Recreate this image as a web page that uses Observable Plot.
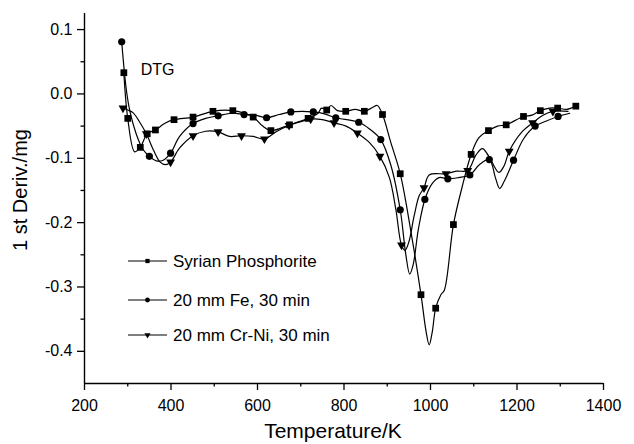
<!DOCTYPE html>
<html><head><meta charset="utf-8">
<script src="https://cdn.jsdelivr.net/npm/d3@7"></script>
<script src="https://cdn.jsdelivr.net/npm/@observablehq/plot@0.6"></script>
<style>body{margin:0;background:#fff}#chart{width:634px;height:444px}</style>
</head><body><div id="chart"></div>
<script>
const seriesNames = ["Syrian Phosphorite", "20 mm Fe, 30 min", "20 mm Cr-Ni, 30 min"];
const xMajor = [200, 400, 600, 800, 1000, 1200, 1400];
const xMinor = [300, 500, 700, 900, 1100, 1300];
const yMajor = [-0.4, -0.3, -0.2, -0.1, 0.0, 0.1];
const yMinor = [-0.35, -0.25, -0.15, -0.05, 0.05];
const annotation = [{T: 330, v: 0.030, label: "DTG"}];

// [Temperature K, 1st derivative mg] - marker points and extra curve points
const syrianMarks = [[291,0.033],[300,-0.038],[329,-0.083],[345,-0.062],[364,-0.056],[407,-0.040],[451,-0.036],[497,-0.027],[543,-0.026],[590,-0.036],[631,-0.057],[674,-0.048],[717,-0.038],[760,-0.025],[804,-0.027],[847,-0.027],[889,-0.032],[930,-0.124],[978,-0.312],[1012,-0.333],[1053,-0.203],[1094,-0.094],[1134,-0.057],[1175,-0.048],[1215,-0.035],[1254,-0.026],[1294,-0.022],[1336,-0.019]];
const syrianExtra = [[316,-0.090],[385,-0.046],[612,-0.050],[740,-0.030],[748,-0.022],[770,-0.018],[785,-0.026],[826,-0.024],[866,-0.021],[877,-0.018],[908,-0.075],[955,-0.215],[990,-0.370],[997,-0.390],[1004,-0.370],[1024,-0.312],[1032,-0.305],[1073,-0.145],[1112,-0.068],[1155,-0.050],[1235,-0.033],[1275,-0.022],[1315,-0.024]];

const feMarks = [[286,0.081],[350,-0.097],[399,-0.092],[451,-0.046],[509,-0.034],[569,-0.032],[621,-0.037],[677,-0.028],[729,-0.028],[781,-0.037],[834,-0.044],[885,-0.071],[930,-0.180],[987,-0.164],[1040,-0.132],[1091,-0.126],[1136,-0.102],[1192,-0.103],[1242,-0.050],[1295,-0.035]];
const feExtra = [[297,0.005],[306,-0.030],[320,-0.063],[335,-0.086],[366,-0.104],[382,-0.103],[420,-0.066],[480,-0.038],[540,-0.030],[595,-0.033],[650,-0.032],[703,-0.027],[755,-0.031],[860,-0.055],[908,-0.110],[943,-0.250],[952,-0.280],[960,-0.265],[972,-0.210],[1003,-0.140],[1020,-0.130],[1065,-0.130],[1113,-0.110],[1150,-0.130],[1160,-0.147],[1171,-0.135],[1215,-0.070],[1268,-0.042],[1322,-0.030]];

const crniMarks = [[289,-0.022],[343,-0.062],[399,-0.106],[451,-0.065],[509,-0.059],[563,-0.065],[616,-0.070],[673,-0.049],[723,-0.039],[777,-0.045],[831,-0.061],[883,-0.097],[933,-0.235],[985,-0.146],[1036,-0.124],[1086,-0.119],[1182,-0.089],[1236,-0.045],[1283,-0.027]];
const crniExtra = [[300,-0.025],[312,-0.029],[326,-0.042],[360,-0.088],[375,-0.106],[387,-0.110],[420,-0.084],[480,-0.058],[535,-0.066],[590,-0.066],[645,-0.058],[700,-0.043],[750,-0.040],[805,-0.050],[858,-0.075],[905,-0.130],[920,-0.180],[941,-0.243],[950,-0.230],[962,-0.190],[974,-0.158],[997,-0.126],[1060,-0.120],[1105,-0.095],[1120,-0.085],[1135,-0.097],[1158,-0.122],[1170,-0.112],[1210,-0.060],[1260,-0.033],[1318,-0.027]];

const font = "Arial, 'Liberation Sans', Helvetica, sans-serif";
const toObj = arr => arr.map(([T, v]) => ({T, v}));
const curveOf = (m, e) => toObj(m.concat(e)).sort((a, b) => a.T - b.T);

const lineOpts = {x: "T", y: "v", curve: "catmull-rom", stroke: "black", strokeWidth: 1.2};

const plot = Plot.plot({
  width: 634, height: 444,
  marginLeft: 84, marginRight: 31, marginTop: 13, marginBottom: 61,
  style: {fontFamily: font, background: "white", color: "black"},
  x: {domain: [200, 1400], label: null},
  y: {domain: [-0.45, 0.125], label: null},
  marks: [
    Plot.ruleY([-0.45], {x1: 200, x2: 1400, stroke: "black", strokeWidth: 1.4}),
    Plot.ruleX([200], {y1: -0.45, y2: 0.125, stroke: "black", strokeWidth: 1.4}),
    Plot.axisX({ticks: xMajor, tickSize: 7, tickPadding: 9, fontSize: 16, strokeWidth: 1.3, tickFormat: d => String(d), label: null}),
    Plot.axisX({ticks: xMinor, tickSize: 3.5, strokeWidth: 1.3, tickFormat: () => "", label: null}),
    Plot.axisY({ticks: yMajor, tickSize: 7, tickPadding: 5, fontSize: 16, strokeWidth: 1.3, tickFormat: d => d.toFixed(1), label: null}),
    Plot.axisY({ticks: yMinor, tickSize: 3.5, strokeWidth: 1.3, tickFormat: () => "", label: null}),
    Plot.line(curveOf(syrianMarks, syrianExtra), lineOpts),
    Plot.line(curveOf(feMarks, feExtra), lineOpts),
    Plot.line(curveOf(crniMarks, crniExtra), lineOpts),
    Plot.dot(toObj(syrianMarks), {x: "T", y: "v", symbol: "square", r: 3.8, fill: "black", stroke: "none"}),
    Plot.dot(toObj(feMarks), {x: "T", y: "v", symbol: "circle", r: 3.6, fill: "black", stroke: "none"}),
    Plot.dot(toObj(crniMarks), {x: "T", y: "v", symbol: "triangle", r: 3.3, fill: "black", stroke: "none", rotate: 180}),
    Plot.text(annotation, {x: "T", y: "v", text: "label", textAnchor: "start", lineAnchor: "bottom", fontSize: 16, fill: "black"})
  ]
});

const svg = d3.select(plot);
// axis titles
svg.append("text").attr("x", 333).attr("y", 438).attr("text-anchor", "middle")
  .attr("font-family", font).attr("font-size", 21).attr("fill", "black").text("Temperature/K");
svg.append("text").attr("transform", "translate(27,190) rotate(-90)").attr("text-anchor", "middle")
  .attr("font-family", font).attr("font-size", 20).attr("fill", "black").text("1 st Deriv./mg");

// legend
const legendSymbols = [d3.symbolSquare, d3.symbolCircle, d3.symbolTriangle];
const legendRot = [0, 0, 180];
const legendSize = [18, 18, 16];
const rowY = [261, 300, 335];
seriesNames.forEach((name, i) => {
  const g = svg.append("g").attr("transform", `translate(0,${rowY[i]})`);
  g.append("line").attr("x1", 128).attr("x2", 167).attr("y1", 0).attr("y2", 0)
    .attr("stroke", "black").attr("stroke-width", 1.2);
  g.append("path").attr("d", d3.symbol(legendSymbols[i], legendSize[i])())
    .attr("transform", `translate(147.5,0) rotate(${legendRot[i]})`).attr("fill", "black");
  g.append("text").attr("x", 173).attr("y", 5.5).attr("text-anchor", "start").attr("font-family", font)
    .attr("font-size", 17).attr("fill", "black").text(name);
});

document.getElementById("chart").appendChild(plot);
</script>
</body></html>
